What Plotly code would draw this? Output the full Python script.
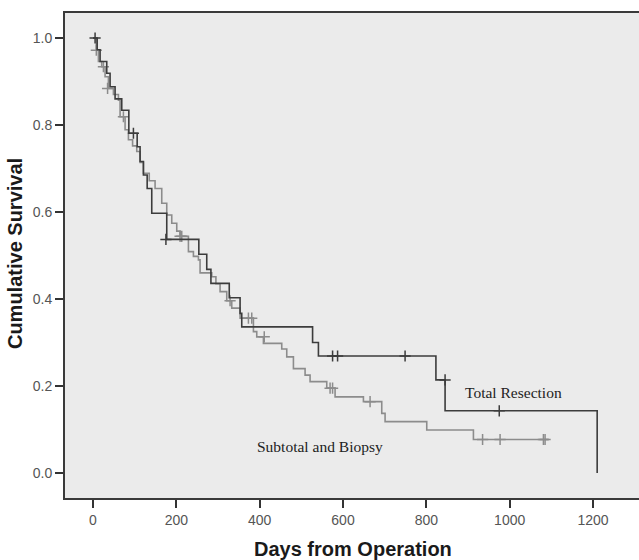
import plotly.graph_objects as go

# Total Resection (step times, survival after step)
tr_time = [0, 10, 17, 33, 41, 53, 69, 86, 106, 113, 121, 130, 141, 177, 254, 273, 283, 327, 353, 357, 527, 541, 823, 845, 1210]
tr_surv = [1.0, 0.973, 0.946, 0.919, 0.888, 0.860, 0.834, 0.781, 0.750, 0.716, 0.685, 0.654, 0.597, 0.537, 0.503, 0.468, 0.436, 0.403, 0.367, 0.336, 0.300, 0.269, 0.214, 0.143, 0.0]
tr_cens_time = [5, 97, 175, 575, 587, 749, 845, 975]
tr_cens_surv = [1.0, 0.781, 0.537, 0.269, 0.269, 0.269, 0.214, 0.143]

# Subtotal and Biopsy
sb_time = [0, 8, 13, 21, 29, 37, 49, 61, 65, 77, 85, 95, 105, 113, 121, 135, 149, 165, 177, 189, 201, 209, 229, 241, 253, 257, 285, 295, 305, 321, 333, 353, 385, 393, 409, 453, 465, 481, 509, 521, 561, 581, 649, 693, 701, 801, 913, 1093]
sb_surv = [1.0, 0.972, 0.946, 0.934, 0.911, 0.884, 0.870, 0.857, 0.819, 0.789, 0.766, 0.752, 0.739, 0.714, 0.689, 0.672, 0.654, 0.620, 0.593, 0.574, 0.556, 0.544, 0.509, 0.498, 0.490, 0.460, 0.451, 0.435, 0.417, 0.396, 0.379, 0.356, 0.325, 0.313, 0.298, 0.285, 0.267, 0.240, 0.225, 0.210, 0.195, 0.175, 0.164, 0.137, 0.118, 0.099, 0.077, 0.077]
sb_cens_time = [8, 25, 35, 73, 209, 213, 329, 373, 381, 411, 569, 575, 665, 935, 977, 1081, 1085]
sb_cens_surv = [0.972, 0.934, 0.884, 0.819, 0.544, 0.544, 0.396, 0.356, 0.356, 0.313, 0.195, 0.195, 0.164, 0.077, 0.077, 0.077, 0.077]

x_ticks = [0, 200, 400, 600, 800, 1000, 1200]
y_ticks = [0.0, 0.2, 0.4, 0.6, 0.8, 1.0]
y_tick_labels = ["0.0", "0.2", "0.4", "0.6", "0.8", "1.0"]

dark = "#3c3c3c"
light = "#8c8c8c"

fig = go.Figure()
fig.add_trace(go.Scatter(x=sb_time, y=sb_surv, mode="lines", line=dict(color=light, width=1.6, shape="hv"), hoverinfo="skip"))
fig.add_trace(go.Scatter(x=sb_cens_time, y=sb_cens_surv, mode="markers",
                         marker=dict(symbol="cross-thin", size=8, line=dict(color=light, width=1.5)), hoverinfo="skip"))
fig.add_trace(go.Scatter(x=tr_time, y=tr_surv, mode="lines", line=dict(color=dark, width=1.6, shape="hv"), hoverinfo="skip"))
fig.add_trace(go.Scatter(x=tr_cens_time, y=tr_cens_surv, mode="markers",
                         marker=dict(symbol="cross-thin", size=8, line=dict(color=dark, width=1.5)), hoverinfo="skip"))

fig.add_annotation(x=1008, y=0.186, text="Total Resection", showarrow=False,
                   font=dict(family="Liberation Serif, Times New Roman, serif", size=15.5, color="#222"))
fig.add_annotation(x=545, y=0.062, text="Subtotal and Biopsy", showarrow=False,
                   font=dict(family="Liberation Serif, Times New Roman, serif", size=15.5, color="#222"))

# axis titles
fig.add_annotation(xref="paper", yref="paper", x=-0.088, y=0.504, text="<b>Cumulative Survival</b>",
                   textangle=-90, showarrow=False, xanchor="center", yanchor="middle",
                   font=dict(family="Liberation Sans, Arial, sans-serif", size=20, color="#1a1a1a"))
fig.add_annotation(xref="paper", yref="paper", x=0.502, y=-0.105, text="<b>Days from Operation</b>",
                   showarrow=False, xanchor="center", yanchor="middle",
                   font=dict(family="Liberation Sans, Arial, sans-serif", size=20, color="#1a1a1a"))

fig.update_layout(
    width=639, height=560,
    margin=dict(l=65, r=0, t=13, b=62, autoexpand=False),
    paper_bgcolor="white",
    plot_bgcolor="#ebebeb",
    showlegend=False,
    font=dict(family="Liberation Sans, Arial, sans-serif", color="#555", size=14),
)
fig.update_xaxes(range=[-67.2, 1310.4], tickvals=x_ticks, showgrid=False, zeroline=False, automargin=False,
                 showline=True, linecolor="#3a3a3a", linewidth=2, mirror=True,
                 ticks="outside", ticklen=8, tickwidth=1.5, tickcolor="#333")
fig.update_yaxes(range=[-0.0575, 1.0575], tickvals=y_ticks, ticktext=y_tick_labels, showgrid=False, zeroline=False,
                 automargin=False, showline=True, linecolor="#3a3a3a", linewidth=2,
                 ticks="outside", ticklen=8, tickwidth=1.5, tickcolor="#333")

fig.write_html("out.html", config={"displayModeBar": False},
               post_script="document.body.style.margin='0';document.body.style.overflow='hidden';")
